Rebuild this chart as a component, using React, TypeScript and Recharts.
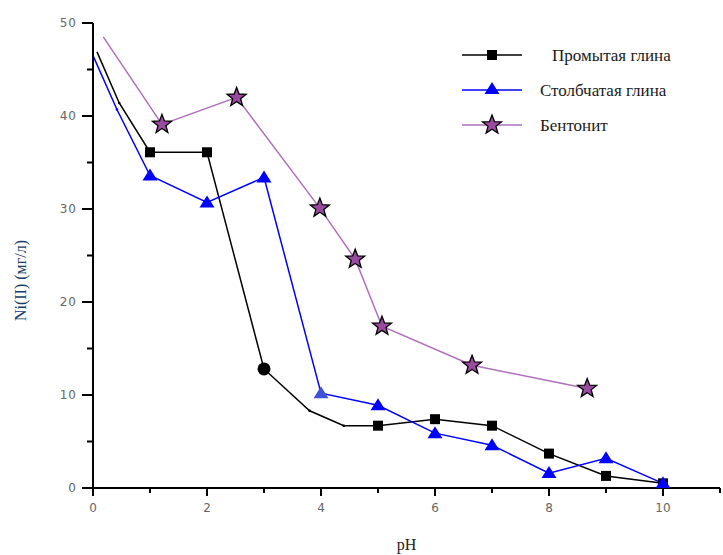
import React from "react"
import { LineChart, Line, XAxis, YAxis, Label } from "recharts"

// pH vs Ni(II) concentration
const washedX = [0.07, 0.46, 1, 2, 3, 3.8, 4.4, 5, 6, 7, 8, 9, 10]
const washedY = [46.9, 41.4, 36.1, 36.1, 12.8, 8.3, 6.7, 6.7, 7.4, 6.7, 3.7, 1.3, 0.5]
const pillaredX = [0, 0.42, 1, 2, 3, 4, 5, 6, 7, 8, 9, 10]
const pillaredY = [46.5, 40.7, 33.6, 30.7, 33.4, 10.2, 8.9, 5.9, 4.6, 1.6, 3.2, 0.5]
const bentoniteX = [0.18, 1.21, 2.52, 3.98, 4.6, 5.07, 6.65, 8.67]
const bentoniteY = [48.5, 39.1, 42, 30.1, 24.6, 17.4, 13.2, 10.7]

const seriesNames = ["Промытая глина", "Столбчатая глина", "Бентонит"]
const xTicks = [0, 1, 2, 3, 4, 5, 6, 7, 8, 9, 10, 11]
const yTicks = [0, 5, 10, 15, 20, 25, 30, 35, 40, 45, 50]

const zip = (xs: number[], ys: number[]) => xs.map((x, i) => ({ x, y: ys[i] }))
const washed = zip(washedX, washedY)
const pillared = zip(pillaredX, pillaredY)
const bentonite = zip(bentoniteX, bentoniteY)

const BLUE = "#0000ff"
const PURPLE = "#b070bc"
const STAR_FILL = "#9a4aa0"
const TICK_FONT = "'DejaVu Sans', sans-serif"
const SERIF = "'Liberation Serif', 'Times New Roman', serif"

function starPath(cx: number, cy: number, ro: number, ri: number) {
  let d = ""
  for (let i = 0; i < 10; i++) {
    const r = i % 2 === 0 ? ro : ri
    const a = -Math.PI / 2 + (i * Math.PI) / 5
    d += (i === 0 ? "M" : "L") + (cx + r * Math.cos(a)).toFixed(2) + "," + (cy + r * Math.sin(a)).toFixed(2)
  }
  return d + "Z"
}

const Square = ({ cx, cy }: any) => <rect x={cx - 5} y={cy - 5} width={10} height={10} fill="#000" />
const Triangle = ({ cx, cy, fill }: any) => (
  <path d={`M${cx},${cy - 7}L${cx + 7.5},${cy + 5}L${cx - 7.5},${cy + 5}Z`} fill={fill} />
)
const Star = ({ cx, cy }: any) => (
  <path d={starPath(cx, cy, 10, 4.2)} fill={STAR_FILL} stroke="#000" strokeWidth={1.3} />
)

const washedDot = (p: any) => {
  const { cx, cy, index, payload } = p
  if (index === 0) return <g key={index} />
  if (!Number.isInteger(payload.x)) return <circle key={index} cx={cx} cy={cy} r={1.3} fill="#000" />
  if (payload.x === 3) return <circle key={index} cx={cx} cy={cy} r={6.5} fill="#000" />
  return <Square key={index} cx={cx} cy={cy} />
}

const pillaredDot = (p: any) => {
  const { cx, cy, index, payload } = p
  if (index === 0) return <g key={index} />
  if (!Number.isInteger(payload.x)) return <circle key={index} cx={cx} cy={cy} r={1.3} fill={BLUE} />
  return <Triangle key={index} cx={cx} cy={cy} fill={payload.x === 4 ? "#4050d8" : BLUE} />
}

const bentoniteDot = (p: any) => {
  const { cx, cy, index } = p
  if (index === 0) return <g key={index} />
  return <Star key={index} cx={cx} cy={cy} />
}

const XTick = ({ x, y, payload }: any) => {
  const v = payload.value
  const major = v % 2 === 0
  return (
    <g>
      <line x1={x} x2={x} y1={y} y2={y + (major ? 8 : 5)} stroke="#000" strokeWidth={2} />
      {major && v <= 10 && (
        <text x={x} y={y + 24} textAnchor="middle" fontSize={12} fill="#666" fontFamily={TICK_FONT}>
          {v}
        </text>
      )}
    </g>
  )
}

const YTick = ({ x, y, payload }: any) => {
  const v = payload.value
  const major = v % 10 === 0
  return (
    <g>
      <line x1={x - (major ? 11 : 6)} x2={x} y1={y} y2={y} stroke="#000" strokeWidth={2} />
      {major && (
        <text x={x - 16} y={y + 4} textAnchor="end" fontSize={12} fill="#666" fontFamily={TICK_FONT} letterSpacing={1}>
          {v}
        </text>
      )}
    </g>
  )
}

const legendItems = [
  { name: seriesNames[0], color: "#000", marker: "square" },
  { name: seriesNames[1], color: BLUE, marker: "triangle" },
  { name: seriesNames[2], color: PURPLE, marker: "star" },
]

const LegendBox = () => (
  <svg width={270} height={110} style={{ position: "absolute", left: 460, top: 38 }}>
    {legendItems.map((it, i) => {
      const cy = 17 + i * 35
      return (
        <g key={it.name}>
          <line x1={2} x2={62} y1={cy} y2={cy} stroke={it.color} strokeWidth={1.5} />
          {it.marker === "square" && <Square cx={32} cy={cy} />}
          {it.marker === "triangle" && <Triangle cx={32} cy={cy - 1} fill={BLUE} />}
          {it.marker === "star" && <Star cx={32} cy={cy} />}
          <text x={i === 0 ? 92 : 80} y={cy + 6} fontSize={17} fontFamily={SERIF} fill="#1a1a1a">
            {it.name}
          </text>
        </g>
      )
    })}
  </svg>
)

export default function App() {
  return (
    <div style={{ position: "absolute", left: 0, top: 0, width: 723, height: 555, background: "#fff" }}>
      <LineChart width={723} height={555} margin={{ top: 23, right: 3, bottom: 0, left: 0 }}>
        <XAxis
          type="number"
          dataKey="x"
          domain={[0, 11]}
          ticks={xTicks}
          interval={0}
          height={67}
          tickSize={0}
          tickMargin={0}
          tickLine={false}
          axisLine={{ stroke: "#000", strokeWidth: 2 }}
          tick={<XTick />}
          allowDataOverflow
        >
          <Label
            content={({ viewBox }: any) => (
              <text
                x={viewBox.x + viewBox.width / 2}
                y={viewBox.y + 62}
                textAnchor="middle"
                fontSize={16}
                fontFamily={SERIF}
                fill="#222"
              >
                pH
              </text>
            )}
          />
        </XAxis>
        <YAxis
          type="number"
          dataKey="y"
          domain={[0, 50]}
          ticks={yTicks}
          interval={0}
          width={93}
          tickSize={0}
          tickMargin={0}
          tickLine={false}
          axisLine={{ stroke: "#000", strokeWidth: 2 }}
          tick={<YTick />}
          allowDataOverflow
        >
          <Label
            content={({ viewBox }: any) => {
              const cx = 26
              const cy = viewBox.y + viewBox.height / 2 + 25
              return (
                <text
                  x={cx}
                  y={cy}
                  transform={`rotate(-90 ${cx} ${cy})`}
                  textAnchor="middle"
                  fontSize={16}
                  fontFamily={SERIF}
                  fill="#1a3a6a"
                >
                  Ni(II) (мг/л)
                </text>
              )
            }}
          />
        </YAxis>
        <Line data={bentonite} dataKey="y" name={seriesNames[2]} stroke={PURPLE} strokeWidth={1.5}
          dot={bentoniteDot} isAnimationActive={false} />
        <Line data={washed} dataKey="y" name={seriesNames[0]} stroke="#000" strokeWidth={1.5}
          dot={washedDot} isAnimationActive={false} />
        <Line data={pillared} dataKey="y" name={seriesNames[1]} stroke={BLUE} strokeWidth={1.5}
          dot={pillaredDot} isAnimationActive={false} />
      </LineChart>
      <LegendBox />
    </div>
  )
}
